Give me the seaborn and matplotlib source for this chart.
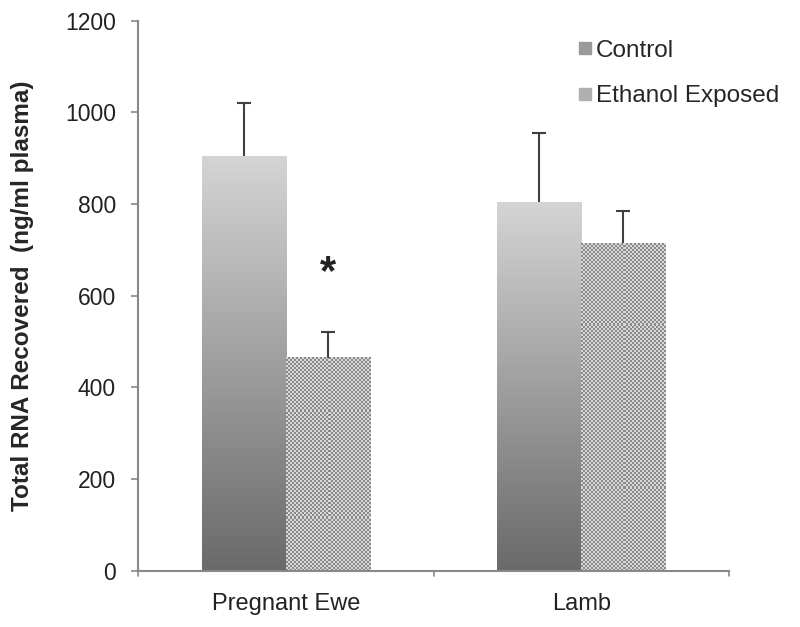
import numpy as np
import pandas as pd
import matplotlib
matplotlib.use("Agg")
import matplotlib.pyplot as plt
from matplotlib.colors import LinearSegmentedColormap, ListedColormap
from matplotlib.lines import Line2D
import seaborn as sns

# values
groups = ["Pregnant Ewe", "Lamb"]
treatments = ["Control", "Ethanol Exposed"]
control_mean = [905, 805]
control_err = [115, 150]
ethanol_mean = [465, 715]
ethanol_err = [55, 70]
y_ticks = [0, 200, 400, 600, 800, 1000, 1200]

df = pd.DataFrame({
	"group": groups * 2,
	"treatment": [treatments[0]] * 2 + [treatments[1]] * 2,
	"value": control_mean + ethanol_mean,
	"err": control_err + ethanol_err,
})

sns.set_style("white")
plt.rcParams["font.family"] = ["Liberation Sans", "DejaVu Sans"]

fig = plt.figure(figsize=(8, 6.27), dpi=100)
ax = fig.add_axes([0.1725, 0.0898, 0.7388, 0.877])

sns.barplot(data=df, x="group", y="value", hue="treatment", order=groups,
			hue_order=treatments, width=0.57, gap=0, errorbar=None,
			palette=["#999999", "#aaaaaa"], legend=False, ax=ax)

grad = LinearSegmentedColormap.from_list("g", ["#6a6a6a", "#d4d4d4"])
checker_cmap = ListedColormap(["#8a8a8a", "#d8d8d8"])
px_per_unit = 550 / 1200

errs = {treatments[0]: control_err, treatments[1]: ethanol_err}
for cont, t in zip(ax.containers, treatments):
	for bar, e in zip(cont, errs[t]):
		x0 = bar.get_x()
		w = bar.get_width()
		h = bar.get_height()
		bar.set_facecolor("none")
		bar.set_edgecolor("none")
		if t == "Control":
			img = np.linspace(0, 1, 200).reshape(-1, 1)
			ax.imshow(img, cmap=grad, origin="lower", aspect="auto",
					  extent=[x0, x0 + w, 0, h], zorder=2, interpolation="bilinear")
		else:
			rows = max(int(h * px_per_unit / 2), 1)
			cols = 42
			ii, jj = np.indices((rows, cols))
			img = (ii + jj) % 2
			ax.imshow(img, cmap=checker_cmap, origin="lower", aspect="auto",
					  extent=[x0, x0 + w, 0, h], zorder=2, interpolation="nearest")
		_, caps, _ = ax.errorbar(x0 + w / 2, h, yerr=[[0], [e]], color="#404040",
								 lw=1.5, capsize=5, capthick=1.5, zorder=3)
		caps[0].set_visible(False)

# significance marker on ewe ethanol bar
star_bar = ax.containers[1][0]
ax.text(star_bar.get_x() + star_bar.get_width() / 2, 650, "*", ha="center",
		va="center", fontsize=30, fontweight="bold", color="#222222")

ax.set_xlim(-0.5, 1.5)
ax.set_ylim(0, 1200)
ax.set_yticks(y_ticks)
ax.set_yticklabels([str(v) for v in y_ticks], fontsize=16.5, color="#222222")
ax.set_xticks([0, 1])
ax.set_xticklabels(groups, fontsize=17, color="#222222")
ax.tick_params(axis="x", length=0, pad=16)
ax.tick_params(axis="y", length=5, width=1.2, color="#888888", direction="out", left=True, pad=11)
for b in [-0.5, 0.5, 1.5]:
	ax.plot([b, b], [0, -12], color="#888888", lw=1.2, clip_on=False)

ax.set_xlabel("")
ax.set_ylabel("Total RNA Recovered  (ng/ml plasma)", fontsize=17.5,
			  fontweight="bold", labelpad=22)
sns.despine(ax=ax)
ax.spines["left"].set_color("#888888")
ax.spines["bottom"].set_color("#888888")
ax.spines["left"].set_linewidth(1.5)
ax.spines["bottom"].set_linewidth(1.5)

handles = [
	Line2D([], [], marker="s", ls="none", color="#9a9a9a", markersize=9),
	Line2D([], [], marker="s", ls="none", color="#b0b0b0", markersize=9),
]
ax.legend(handles, treatments, loc="upper left", bbox_to_anchor=(0.705, 1.005),
		  frameon=False, fontsize=17.5, handletextpad=0.1, labelspacing=0.95,
		  handlelength=0.7)

plt.savefig("out.png", dpi=100)
